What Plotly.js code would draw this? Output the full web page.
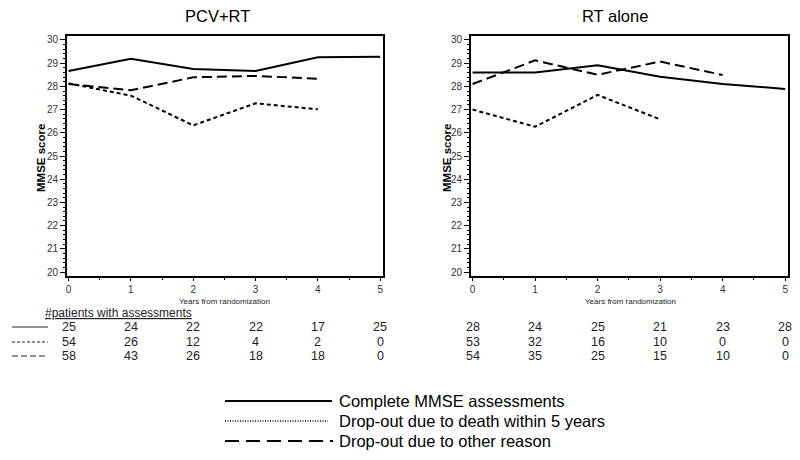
<!DOCTYPE html>
<html>
<head>
<meta charset="utf-8">
<script src="https://cdn.plot.ly/plotly-3.0.1.min.js"></script>
<style>html,body{margin:0;padding:0;background:#fff;}#chart{width:800px;height:460px;}</style>
</head>
<body>
<div id="chart"></div>
<script>
// ---- data ----
const years = [0, 1, 2, 3, 4, 5];
const xTickLabels = ['0', '1', '2', '3', '4', '5'];
const yTickVals = [20, 21, 22, 23, 24, 25, 26, 27, 28, 29, 30];
const panelTitles = ['PCV+RT', 'RT alone'];
const seriesNames = ['Complete MMSE assessments', 'Drop-out due to death within 5 years', 'Drop-out due to other reason'];

const pcvComplete = [28.66, 29.19, 28.75, 28.66, 29.25, 29.28];
const pcvDeath    = [28.13, 27.60, 26.32, 27.27, 27.01];
const pcvOther    = [28.10, 27.83, 28.39, 28.45, 28.33];

const rtComplete  = [28.60, 28.60, 28.91, 28.41, 28.10, 27.89];
const rtDeath     = [27.00, 26.26, 27.63, 26.58];
const rtOther     = [28.10, 29.12, 28.50, 29.07, 28.49];

const pcvNComplete = [25, 24, 22, 22, 17, 25];
const pcvNDeath    = [54, 26, 12, 4, 2, 0];
const pcvNOther    = [58, 43, 26, 18, 18, 0];

const rtNComplete  = [28, 24, 25, 21, 23, 28];
const rtNDeath     = [53, 32, 16, 10, 0, 0];
const rtNOther     = [54, 35, 25, 15, 10, 0];

// ---- styles ----
const H = 460, W = 800;
const styles = [
  {color: '#000', width: 2, dash: 'solid'},
  {color: '#000', width: 2, dash: '4px,3px'},
  {color: '#000', width: 2, dash: '10px,5px'}
];
const py = p => 1 - p / H;
const px = p => p / W;

function tr(x, y, s, xa, ya, name) {
  return {x: x, y: y, type: 'scatter', mode: 'lines', line: s, xaxis: xa, yaxis: ya, name: name, showlegend: false, hoverinfo: 'x+y'};
}

const data = [
  tr(years.slice(0, pcvComplete.length), pcvComplete, styles[0], 'x', 'y', seriesNames[0]),
  tr(years.slice(0, pcvDeath.length), pcvDeath, styles[1], 'x', 'y', seriesNames[1]),
  tr(years.slice(0, pcvOther.length), pcvOther, styles[2], 'x', 'y', seriesNames[2]),
  tr(years.slice(0, rtComplete.length), rtComplete, styles[0], 'x2', 'y2', seriesNames[0]),
  tr(years.slice(0, rtDeath.length), rtDeath, styles[1], 'x2', 'y2', seriesNames[1]),
  tr(years.slice(0, rtOther.length), rtOther, styles[2], 'x2', 'y2', seriesNames[2])
];

const tickFont = {family: 'Liberation Sans, Arial, sans-serif', size: 10, color: '#333'};
function xax(domain, anchor) {
  return {
    domain: domain, anchor: anchor, range: [-0.025, 5.045], fixedrange: true,
    tickmode: 'array', tickvals: years, ticktext: xTickLabels,
    ticks: 'outside', ticklen: 3, tickwidth: 1, tickcolor: '#000',
    minor: {dtick: 0.5, tick0: 0, ticks: 'outside', ticklen: 2, tickcolor: '#000'},
    showline: true, linecolor: '#000', linewidth: 2, mirror: true,
    showgrid: false, zeroline: false, tickfont: tickFont
  };
}
function yax(anchor) {
  return {
    domain: [py(276), py(36)], anchor: anchor, range: [19.83, 30.17], fixedrange: true,
    tickmode: 'array', tickvals: yTickVals,
    ticks: 'outside', ticklen: 5, tickwidth: 1, tickcolor: '#000',
    minor: {dtick: 0.2, tick0: 20, ticks: 'outside', ticklen: 2, tickcolor: '#000'},
    showline: true, linecolor: '#000', linewidth: 2, mirror: true,
    showgrid: false, zeroline: false, tickfont: tickFont
  };
}

const annotations = [];
const baseFont = 'Liberation Sans, Arial, sans-serif';
const narrowFont = 'Liberation Sans Narrow, Arial Narrow, Liberation Sans, Arial, sans-serif';
function ann(text, x, y, opts) {
  annotations.push(Object.assign({text: text, x: x, y: y, xref: 'paper', yref: 'paper', showarrow: false,
    xanchor: 'center', yanchor: 'middle', font: {family: baseFont, size: 10, color: '#000'}}, opts || {}));
}
// panel titles
ann(panelTitles[0], px(217), py(16), {font: {family: baseFont, size: 16.5, color: '#000'}});
ann(panelTitles[1], px(615), py(16), {font: {family: baseFont, size: 16.5, color: '#000'}});
// y titles
ann('<b>MMSE score</b>', px(41), py(158), {textangle: -90, font: {family: baseFont, size: 11.5, color: '#000'}});
ann('<b>MMSE score</b>', px(447), py(158), {textangle: -90, font: {family: baseFont, size: 11.5, color: '#000'}});
// x titles
ann('Years from randomization', px(224), py(301), {font: {family: baseFont, size: 8, color: '#222'}});
ann('Years from randomization', px(630), py(301), {font: {family: baseFont, size: 8, color: '#222'}});
// table header
ann('<u>#patients with assessments</u>', px(43), py(313), {xanchor: 'left', font: {family: narrowFont, size: 12, color: '#222'}});

// table counts
const rowsY = [327, 342, 356];
const pcvRows = [pcvNComplete, pcvNDeath, pcvNOther];
const rtRows = [rtNComplete, rtNDeath, rtNOther];
function countRow(vals, xref, yp) {
  vals.forEach((v, i) => {
    annotations.push({text: String(v), x: years[i], y: py(yp), xref: xref, yref: 'paper', showarrow: false,
      xanchor: 'center', yanchor: 'middle', font: {family: narrowFont, size: 12.5, color: '#222'}});
  });
}
pcvRows.forEach((r, k) => countRow(r, 'x', rowsY[k]));
rtRows.forEach((r, k) => countRow(r, 'x2', rowsY[k]));

// bottom legend texts
const legY = [401, 421, 441];
seriesNames.forEach((n, k) => ann(n, px(337), py(legY[k]), {xanchor: 'left', font: {family: baseFont, size: 16.5, color: '#000'}}));

// shapes: line samples
const shapes = [];
const tableDash = ['solid', '3px,2px', '6px,3px'];
rowsY.forEach((yp, k) => shapes.push({type: 'line', xref: 'paper', yref: 'paper', x0: px(12), x1: px(48), y0: py(yp), y1: py(yp),
  line: {color: '#222', width: 1, dash: tableDash[k]}}));
const legDash = ['solid', '1px,1.5px', '14px,7px'];
const legX1 = [332, 328, 333];
legY.forEach((yp, k) => shapes.push({type: 'line', xref: 'paper', yref: 'paper', x0: px(225), x1: px(legX1[k]), y0: py(yp), y1: py(yp),
  line: {color: '#000', width: k === 1 ? 1.5 : 2, dash: legDash[k]}}));

const layout = {
  width: W, height: H,
  margin: {l: 0, r: 0, t: 0, b: 0, pad: 0},
  paper_bgcolor: '#fff', plot_bgcolor: '#fff',
  showlegend: false,
  xaxis: xax([px(67), px(383)], 'y'),
  yaxis: yax('x'),
  xaxis2: xax([px(471), px(788)], 'y2'),
  yaxis2: yax('x2'),
  annotations: annotations,
  shapes: shapes,
  font: {family: baseFont}
};

Plotly.newPlot('chart', data, layout, {displayModeBar: false, staticPlot: true});
</script>
</body>
</html>
